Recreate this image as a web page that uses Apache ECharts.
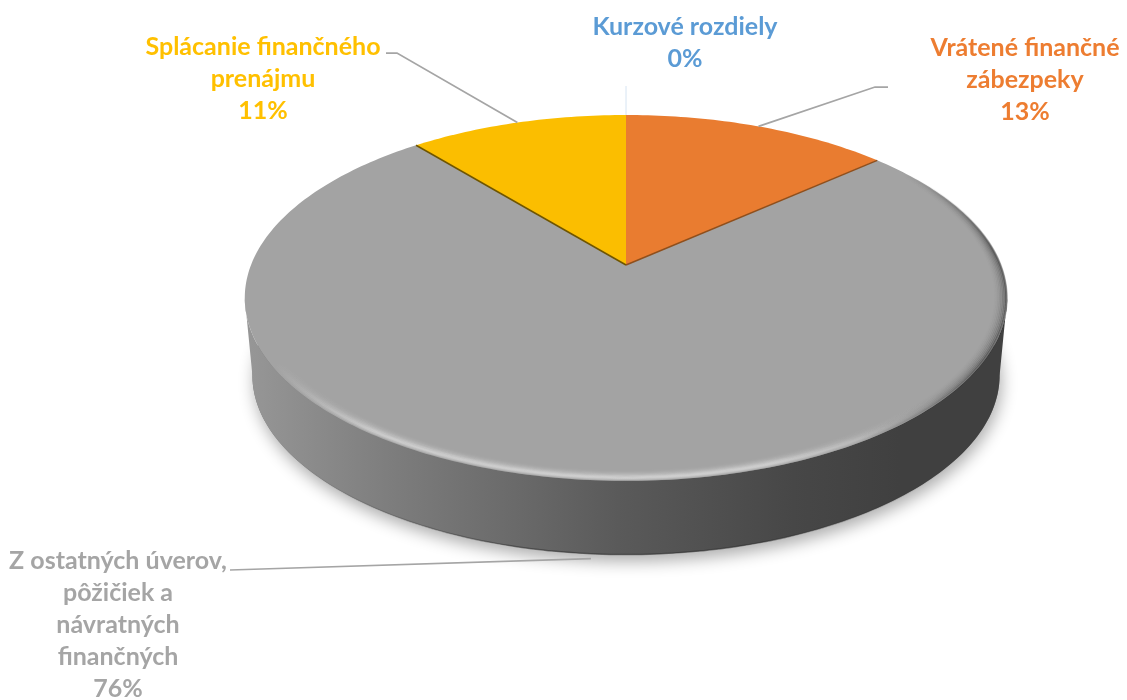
<!DOCTYPE html>
<html>
<head>
<meta charset="utf-8">
<script src="https://cdn.jsdelivr.net/npm/echarts@6/dist/echarts.min.js"></script>
<style>
    html, body { margin: 0; background: #fff; }
    #pie-container { width: 1127px; height: 700px; }
</style>
</head>
<body>
<div id="pie-container"></div>
<script>
// clockwise from 12 o'clock
const categories = ['Vrátené finančné\nzábezpeky', 'Z ostatných úverov,\npôžičiek a\nnávratných\nfinančných', 'Splácanie finančného\nprenájmu', 'Kurzové rozdiely'];
const values = [13.49, 75.51, 11.0, 0];

const sliceColors = ['#e97c30', '#a3a3a3', '#fbbe00', '#5b9bd5'];
const labelColors = ['#ed7d31', '#a5a5a5', '#ffc000', '#5b9bd5'];
const edgeColors = ['#8f4f1c', null, '#6f5500', null];

// label centre / first line y, and the elbow of each leader line
const labelX = [1025, 118, 263, 685];
const labelY = [32, 545, 31, 11];
const leaderEnd = [[888, 87], [230, 570], [386, 53], [626, 86]];
const leaderElbow = [[875, 87], null, [397, 53], null];

// perspective disc: circle (u, v) on the table -> screen
const disc = { x: 626, y: 265, a: 375, b: 177, p: 0.18 };
const depth = 78;

const project = (deg, r = 1, dy = 0, s = 1) => {
    const t = deg * Math.PI / 180;
    const u = Math.sin(t) * r;
    const v = -Math.cos(t) * r;
    const w = 1 - disc.p * v;
    return [disc.x + s * disc.a * u / w, disc.y + dy + s * disc.b * v / w];
};
const arc = (from, to, r, dy, s) => {
    const pts = [];
    const n = Math.max(2, Math.ceil(Math.abs(to - from)));
    for (let i = 0; i <= n; i++) {
        pts.push(project(from + (to - from) * i / n, r, dy, s));
    }
    return pts;
};

const total = values.reduce((a, b) => a + b, 0);
const startAngle = (i) => values.slice(0, i).reduce((a, b) => a + b, 0) / total * 360;
const endAngle = (i) => startAngle(i) + values[i] / total * 360;
const midAngle = (i) => (startAngle(i) + endAngle(i)) / 2;

const grad = (p1, p2, stops) => new echarts.graphic.LinearGradient(p1[0], p1[1], p2[0], p2[1],
    stops.map(([offset, color]) => ({ offset, color })), true);

const renderBase = () => {
    const side = Math.acos(-disc.p) * 180 / Math.PI; // where the outline is widest
    const topEdge = arc(side, 360 - side);
    const bottomEdge = arc(360 - side, side, 1, depth, 0.98);
    return {
        type: 'group',
        children: [
            {
                type: 'polygon',
                shape: { points: arc(0, 360, 1, depth, 0.98) },
                style: { fill: '#777', shadowBlur: 16, shadowColor: 'rgba(0,0,0,0.32)', shadowOffsetY: 7, shadowOffsetX: 2 }
            },
            {
                type: 'polygon',
                shape: { points: topEdge.concat(bottomEdge) },
                style: {
                    fill: grad([245, 0], [1007, 0], [[0, '#979797'], [0.2, '#7c7c7c'], [0.49, '#5a5a5a'], [0.72, '#474747'], [0.86, '#404040'], [1, '#404040']])
                }
            },
            {
                type: 'polyline',
                shape: { points: arc(125, 235, 1, depth, 0.98) },
                style: {
                    fill: null,
                    lineWidth: 1.5,
                    stroke: grad(project(235, 1, depth, 0.98), project(125, 1, depth, 0.98), [
                        [0, 'rgba(40,40,40,0)'], [0.35, 'rgba(40,40,40,0.5)'], [0.7, 'rgba(40,40,40,0.5)'], [1, 'rgba(40,40,40,0)']
                    ])
                }
            }
        ]
    };
};

const renderSlice = (params, api) => {
    const i = params.dataIndex;
    const from = startAngle(i);
    const to = from + api.value(0) / total * 360;
    const children = [];
    if (to > from) {
        children.push({
            type: 'polygon',
            shape: { points: [project(0, 0)].concat(arc(from, to)) },
            style: { fill: sliceColors[i] }
        });
    }
    return { type: 'group', children };
};

// soft rim of the top face, stacked thin rings that fade out towards both ends
const lightProfile = [0.08, 0.2, 0.26, 0.21, 0.15, 0.1, 0.06, 0.035, 0.015];
const darkProfile = [0.3, 0.2, 0.14, 0.1, 0.07, 0.045, 0.025, 0.012];

const renderBevel = () => {
    const children = [];
    const ring = (from, to, r, stops) => ({
        type: 'polyline',
        shape: { points: arc(from, to, r) },
        style: {
            fill: null,
            lineWidth: 2.5,
            stroke: grad(project(from, r), project(to, r), stops)
        }
    });
    lightProfile.forEach((a, k) => {
        const c = (x) => `rgba(255,255,255,${x})`;
        children.push(ring(130, 302, 0.996 - k * 0.004, [[0, c(0)], [0.22, c(a)], [0.82, c(a)], [1, c(0)]]));
    });
    darkProfile.forEach((a, k) => {
        const c = (x) => `rgba(0,0,0,${x})`;
        children.push(ring(55, 148, 0.998 - k * 0.004, [[0, c(0)], [0.22, c(a)], [0.65, c(a)], [1, c(0)]]));
    });
    // the dark line under the two cut faces
    values.forEach((v, i) => {
        if (!edgeColors[i]) return;
        const deg = i === 0 ? endAngle(i) : startAngle(i);
        children.push({
            type: 'line',
            shape: {
                x1: project(0, 0)[0], y1: project(0, 0)[1],
                x2: project(deg)[0], y2: project(deg)[1]
            },
            style: { stroke: edgeColors[i], lineWidth: 1.5 }
        });
    });
    return { type: 'group', children };
};

const renderLabel = (params, api) => {
    const i = params.dataIndex;
    const anchor = i === 1 ? project(midAngle(i), 1, depth + 5, 0.98) : project(midAngle(i));
    const pts = [leaderEnd[i]];
    if (leaderElbow[i]) pts.push(leaderElbow[i]);
    pts.push(anchor);
    return {
        type: 'group',
        children: [
            {
                type: 'polyline',
                shape: { points: pts },
                style: {
                    fill: null,
                    stroke: i === 3 ? '#d6e4f2' : '#a5a5a5',
                    lineWidth: i === 3 ? 1 : 1.75
                }
            },
            {
                type: 'text',
                style: {
                    x: labelX[i],
                    y: labelY[i],
                    text: `${categories[i]}\n${Math.round(api.value(0))}%`,
                    fill: labelColors[i],
                    font: 'bold 25px Lato',
                    lineHeight: 32,
                    align: 'center',
                    verticalAlign: 'top'
                }
            }
        ]
    };
};

const myChart = echarts.init(document.getElementById('pie-container'), null, { renderer: 'canvas' });
myChart.setOption({
    animation: false,
    series: [
        { type: 'custom', coordinateSystem: 'none', z: 1, data: [[0]], renderItem: renderBase, silent: true },
        { type: 'custom', coordinateSystem: 'none', z: 2, data: values.map((v) => [v]), renderItem: renderSlice },
        { type: 'custom', coordinateSystem: 'none', z: 3, data: [[0]], renderItem: renderBevel, silent: true },
        { type: 'custom', coordinateSystem: 'none', z: 4, data: values.map((v) => [v]), renderItem: renderLabel, silent: true }
    ]
});
</script>
</body>
</html>
